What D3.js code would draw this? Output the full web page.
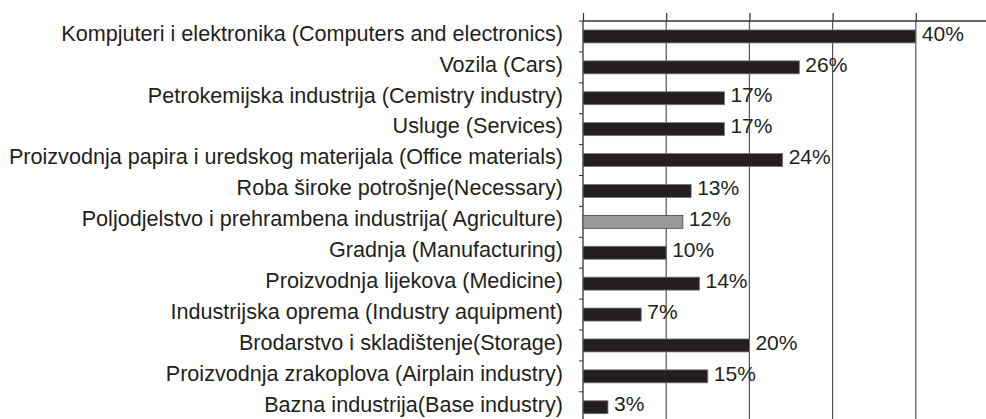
<!DOCTYPE html>
<html>
<head>
<meta charset="utf-8">
<script src="https://cdn.jsdelivr.net/npm/d3@7"></script>
<style>
  body { margin: 0; background: #fff; }
  svg { display: block; }
</style>
</head>
<body>
<svg id="chart" width="986" height="419"></svg>
<script>
// categories, top to bottom
let categories = [
  "Kompjuteri i elektronika (Computers and electronics)",
  "Vozila (Cars)",
  "Petrokemijska industrija (Cemistry industry)",
  "Usluge (Services)",
  "Proizvodnja papira i uredskog materijala (Office materials)",
  "Roba široke potrošnje(Necessary)",
  "Poljodjelstvo i prehrambena industrija( Agriculture)",
  "Gradnja (Manufacturing)",
  "Proizvodnja lijekova (Medicine)",
  "Industrijska oprema (Industry aquipment)",
  "Brodarstvo i skladištenje(Storage)",
  "Proizvodnja zrakoplova (Airplain industry)",
  "Bazna industrija(Base industry)"
]
let values = [40, 26, 17, 17, 24, 13, 12, 10, 14, 7, 20, 15, 3]
let highlighted = ["Poljodjelstvo i prehrambena industrija( Agriculture)"]
let tickValues = [0, 10, 20, 30, 40, 50]

let darkTextColor = "#231f20"
let barColor = "#231f20"
let greyBarColor = "#999999"
let gridColor = "#555555"

let svg = d3.select("#chart")

let plotLeft = 583, plotTop = 21, rowStep = 30.9

let x = d3.scaleLinear()
  .domain([0, 50])
  .range([plotLeft, plotLeft + 50 * 8.32])

let y = d3.scaleBand()
  .domain(categories)
  .range([plotTop, plotTop + rowStep * categories.length])
  .paddingInner(0.58)
  .paddingOuter(0.29)

let plotBottom = plotTop + rowStep * categories.length

// vertical gridlines
svg.append("g")
  .selectAll("line")
  .data(tickValues.slice(1))
  .enter()
  .append("line")
  .attr("x1", d => x(d))
  .attr("x2", d => x(d))
  .attr("y1", plotTop)
  .attr("y2", plotBottom)
  .style("stroke", gridColor)
  .style("stroke-width", 1.2)

// top axis
let xAxis = svg.append("g")
  .attr("transform", "translate(0," + plotTop + ")")
  .call(d3.axisTop(x).tickValues(tickValues).tickSize(8).tickFormat(""))
xAxis.select(".domain").attr("d", "M" + plotLeft + ",0H" + x(50)).style("stroke", "#333").style("stroke-width", 1.3)
xAxis.selectAll(".tick line").style("stroke", "#333").style("stroke-width", 1.2)

// left axis with ticks at category boundaries
svg.append("line")
  .attr("x1", plotLeft).attr("x2", plotLeft)
  .attr("y1", plotTop).attr("y2", plotBottom)
  .style("stroke", "#333")
  .style("stroke-width", 1.3)

svg.append("g")
  .selectAll("line")
  .data(d3.range(categories.length + 1))
  .enter()
  .append("line")
  .attr("x1", plotLeft - 4)
  .attr("x2", plotLeft)
  .attr("y1", i => plotTop + i * rowStep)
  .attr("y2", i => plotTop + i * rowStep)
  .style("stroke", "#333")
  .style("stroke-width", 1)

// bars
svg.append("g")
  .selectAll("rect")
  .data(categories)
  .enter()
  .append("rect")
  .attr("x", x(0))
  .attr("y", d => y(d))
  .attr("width", (d, i) => x(values[i]) - x(0))
  .attr("height", y.bandwidth())
  .style("fill", d => highlighted.includes(d) ? greyBarColor : barColor)
  .style("stroke", d => highlighted.includes(d) ? "#444" : "#777")
  .style("stroke-width", 0.8)

// value labels
svg.append("g")
  .selectAll("text")
  .data(categories)
  .enter()
  .append("text")
  .attr("x", (d, i) => x(values[i]) + 6)
  .attr("y", d => y(d) + y.bandwidth() / 2)
  .attr("dy", "0.2em")
  .text((d, i) => values[i] + "%")
  .style("font-family", "Liberation Sans, Arial, sans-serif")
  .style("font-size", "21px")
  .style("fill", darkTextColor)

// category labels
svg.append("g")
  .selectAll("text")
  .data(categories)
  .enter()
  .append("text")
  .attr("x", 563)
  .attr("y", d => y(d) + y.bandwidth() / 2)
  .attr("dy", "0.2em")
  .text(d => d)
  .style("font-family", "Liberation Sans, Arial, sans-serif")
  .style("font-size", "21.6px")
  .style("text-anchor", "end")
  .style("fill", darkTextColor)
</script>
</body>
</html>
